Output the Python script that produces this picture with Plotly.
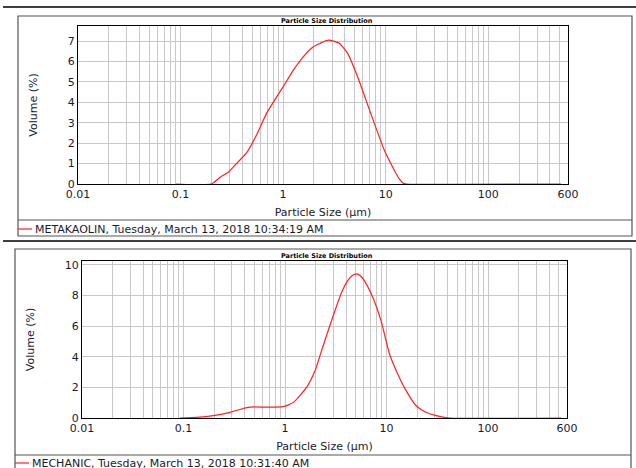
import plotly.graph_objects as go

W, H = 636, 468

# ---------------- data ----------------
meta_size = [0.09, 0.2, 0.243, 0.292, 0.353, 0.44, 0.55, 0.69, 0.865, 1.0, 1.26, 1.57,
             1.97, 2.29, 2.6, 2.82, 3.1, 3.53, 4.26, 5.33, 6.43, 7.75, 9.7, 12.1, 13.6, 14.9, 16.0, 513]
meta_vol = [0, 0, 0.33, 0.58, 1.01, 1.52, 2.40, 3.46, 4.27, 4.76, 5.58, 6.23,
            6.72, 6.89, 7.02, 7.05, 7.0, 6.89, 6.40, 5.25, 4.11, 2.97, 1.66, 0.69, 0.25, 0.03, 0, 0]

mech_size = [0.092, 0.135, 0.197, 0.287, 0.42, 0.5, 0.66, 0.96, 1.21, 1.63, 1.98, 2.21, 2.35,
             2.95, 3.56, 4.15, 4.6, 5.09, 5.5, 6.04, 7.31, 8.83, 10.7, 12.9, 15.6, 19.6, 24.5,
             30.8, 41.6, 525]
mech_vol = [0, 0.04, 0.15, 0.37, 0.68, 0.72, 0.71, 0.74, 1.02, 2.0, 3.1, 4.07, 4.62,
            6.58, 8.10, 8.97, 9.3, 9.41, 9.3, 8.97, 7.89, 6.36, 4.18, 2.88, 1.79, 0.80, 0.37,
            0.15, 0, 0]

series_names = ["METAKAOLIN, Tuesday, March 13, 2018 10:34:19 AM",
                "MECHANIC, Tuesday, March 13, 2018 10:31:40 AM"]
chart_title = "Particle Size Distribution"
x_title = "Particle Size (µm)"
y_title = "Volume (%)"

x_label_vals = [0.01, 0.1, 1, 10, 100, 600]
x_label_text = ["0.01", "0.1", "1", "10", "100", "600"]
top_y_ticks = [0, 1, 2, 3, 4, 5, 6, 7]
bot_y_ticks = [0, 2, 4, 6, 8, 10]

# grid positions (every 1..9 per decade, plus 600)
grid_vals = []
for dec in [0.01, 0.1, 1, 10, 100]:
    for m in range(1, 10):
        v = round(m * dec, 6)
        if v <= 600:
            grid_vals.append(v)
grid_vals.append(600)
grid_text = []
for v in grid_vals:
    if v in x_label_vals:
        grid_text.append(x_label_text[x_label_vals.index(v)])
    else:
        grid_text.append("")


def px(x):
    return x / W


def py(y):
    return 1 - y / H


FONT = "DejaVu Sans"
TXT = "#1a1a2e"
RED = "#ff2020"
GRID = "#c8c8c8"
BOX = "#555555"
FS = 11

fig = go.Figure()
fig.add_trace(go.Scatter(x=meta_size, y=meta_vol, mode="lines", name=series_names[0],
                         line=dict(color=RED, width=1.2, shape="spline", smoothing=0.5),
                         xaxis="x", yaxis="y"))
fig.add_trace(go.Scatter(x=mech_size, y=mech_vol, mode="lines", name=series_names[1],
                         line=dict(color=RED, width=1.2, shape="spline", smoothing=0.5),
                         xaxis="x2", yaxis="y2"))

xcommon = dict(type="log", range=[-2, 2.7782], tickmode="array", tickvals=grid_vals,
               ticktext=grid_text, showgrid=True, gridcolor=GRID, gridwidth=1,
               showline=True, mirror=True, linecolor="#000000", linewidth=1,
               ticks="", zeroline=False, tickfont=dict(family=FONT, size=FS, color=TXT),
               tickangle=0, automargin=False, layer="below traces")
ycommon = dict(showgrid=True, gridcolor=GRID, gridwidth=1, showline=True, mirror=True,
               linecolor="#000000", linewidth=1, ticks="", zeroline=False,
               tickfont=dict(family=FONT, size=FS, color=TXT), automargin=False,
               layer="below traces")

fig.update_layout(
    width=W, height=H, margin=dict(l=0, r=0, t=0, b=0),
    paper_bgcolor="white", plot_bgcolor="white", showlegend=False,
    xaxis=dict(xcommon, domain=[px(78), px(568)], anchor="y",
               title=dict(text=x_title, font=dict(family=FONT, size=FS, color=TXT), standoff=8)),
    yaxis=dict(ycommon, domain=[py(184), py(26)], range=[0, 7.74], tickvals=top_y_ticks,
               anchor="x",
               title=dict(text=y_title, font=dict(family=FONT, size=FS, color=TXT), standoff=27)),
    xaxis2=dict(xcommon, domain=[px(82), px(567)], anchor="y2",
                title=dict(text=x_title, font=dict(family=FONT, size=FS, color=TXT), standoff=8)),
    yaxis2=dict(ycommon, domain=[py(418), py(261)], range=[0, 10.25], tickvals=bot_y_ticks,
                anchor="x2",
                title=dict(text=y_title, font=dict(family=FONT, size=FS, color=TXT), standoff=27)),
)

shapes = []
# separator lines
for yline in [7, 241]:
    shapes.append(dict(type="line", xref="paper", yref="paper", x0=px(3), x1=1,
                       y0=py(yline), y1=py(yline), line=dict(color="#000000", width=1.5)))
# top box
shapes.append(dict(type="rect", xref="paper", yref="paper", x0=px(18), x1=px(632),
                   y0=py(236), y1=py(16), line=dict(color=BOX, width=1.2)))
shapes.append(dict(type="line", xref="paper", yref="paper", x0=px(18), x1=px(632),
                   y0=py(220), y1=py(220), line=dict(color=BOX, width=1.2)))
shapes.append(dict(type="line", xref="paper", yref="paper", x0=px(18), x1=px(32),
                   y0=py(229), y1=py(229), line=dict(color=RED, width=1.2)))
# bottom box
shapes.append(dict(type="rect", xref="paper", yref="paper", x0=px(15), x1=px(631),
                   y0=py(470), y1=py(249), line=dict(color=BOX, width=1.2)))
shapes.append(dict(type="line", xref="paper", yref="paper", x0=px(15), x1=px(631),
                   y0=py(455), y1=py(455), line=dict(color=BOX, width=1.2)))
shapes.append(dict(type="line", xref="paper", yref="paper", x0=px(15), x1=px(29),
                   y0=py(463), y1=py(463), line=dict(color=RED, width=1.2)))

annotations = []
for cx, cy in [(327, 21), (327, 256)]:
    annotations.append(dict(text="<b>" + chart_title + "</b>", xref="paper", yref="paper",
                            x=px(cx), y=py(cy), showarrow=False, xanchor="center",
                            yanchor="middle", font=dict(family=FONT, size=6.5, color="#000000")))
annotations.append(dict(text=series_names[0], xref="paper", yref="paper", x=px(33), y=py(229),
                        showarrow=False, xanchor="left", yanchor="middle",
                        font=dict(family=FONT, size=FS, color=TXT)))
annotations.append(dict(text=series_names[1], xref="paper", yref="paper", x=px(30), y=py(463),
                        showarrow=False, xanchor="left", yanchor="middle",
                        font=dict(family=FONT, size=FS, color=TXT)))

fig.update_layout(shapes=shapes, annotations=annotations)
fig.write_html("out.html", config={"displayModeBar": False},
               post_script="document.body.style.margin='0';document.body.style.overflow='hidden';")
